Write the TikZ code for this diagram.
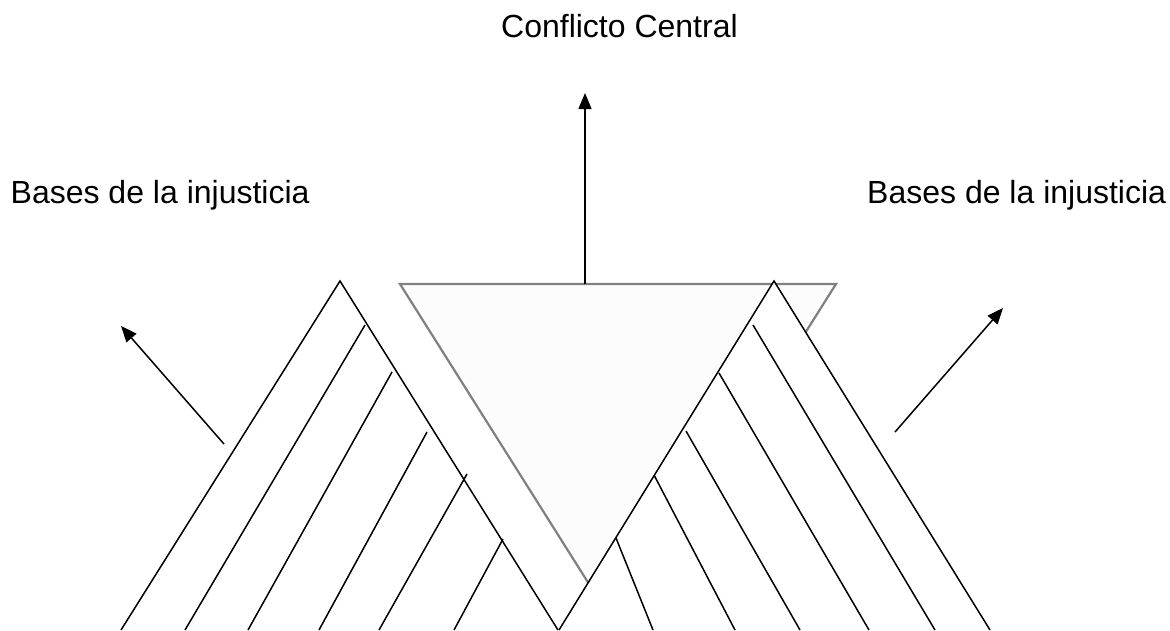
\documentclass[tikz,border=0pt]{standalone}
\usepackage{fontspec}
\setmainfont{Liberation Sans}
\usetikzlibrary{arrows.meta}
\begin{document}
\begin{tikzpicture}[x=1pt,y=-1pt,
  mline/.style={line width=1.5pt,draw=black},
  arr/.style={line width=1.5pt,draw=black,-{Triangle[length=16pt,width=13pt]}},
  lbl/.style={inner sep=0pt,anchor=base west,font=\fontsize{32}{38}\selectfont},
  tri/.style={draw=black!50,line width=2.2pt,fill=black!1,line join=miter}]
\useasboundingbox (0,0) rectangle (1170,630);
\fill[white] (0,0) rectangle (1170,630);

% labels
\node[lbl] (conf) at (501,37) {Conflicto Central};
\node[lbl] (basesL) at (10.5,203) {Bases de la injusticia};
\node[lbl] (basesR) at (867,203) {Bases de la injusticia};

% central inverted triangle
\coordinate (tA) at (400,284);
\coordinate (tB) at (836,284);
\coordinate (tC) at (618,630);
\begin{scope}
\clip (0,0) rectangle (1170,615);
\draw[tri] (tA) -- (tB) -- (tC) -- cycle;
\end{scope}

% left mountain
\coordinate (lBL) at (121,630);
\coordinate (lP) at (340,281);
\coordinate (lBR) at (558,630);
\path[mline,fill=white] (lBL) -- (lP) -- (lBR);
\coordinate (l1a) at (365,325); \coordinate (l1b) at (185,630);
\coordinate (l2a) at (392,372); \coordinate (l2b) at (248,630);
\coordinate (l3a) at (427,432); \coordinate (l3b) at (319,630);
\coordinate (l4a) at (467,474); \coordinate (l4b) at (379,630);
\coordinate (l5a) at (503,539); \coordinate (l5b) at (454,630);
\draw[mline] (l1a) -- (l1b);
\draw[mline] (l2a) -- (l2b);
\draw[mline] (l3a) -- (l3b);
\draw[mline] (l4a) -- (l4b);
\draw[mline] (l5a) -- (l5b);

% right mountain
\coordinate (rBL) at (559,630);
\coordinate (rP) at (774,281);
\coordinate (rBR) at (990,630);
\path[mline,fill=white] (rBL) -- (rP) -- (rBR);
\coordinate (r1a) at (753,325); \coordinate (r1b) at (935,630);
\coordinate (r2a) at (719,373); \coordinate (r2b) at (869,630);
\coordinate (r3a) at (686,431); \coordinate (r3b) at (800,630);
\coordinate (r4a) at (654,475); \coordinate (r4b) at (735,630);
\coordinate (r5a) at (616,538); \coordinate (r5b) at (653,630);
\draw[mline] (r1a) -- (r1b);
\draw[mline] (r2a) -- (r2b);
\draw[mline] (r3a) -- (r3b);
\draw[mline] (r4a) -- (r4b);
\draw[mline] (r5a) -- (r5b);

% arrows
\coordinate (cT) at (585,284);
\coordinate (cH) at (585,93);
\draw[arr] (cT) -- (cH);
\coordinate (aLT) at (224,444);
\coordinate (aLH) at (121,326);
\draw[arr] (aLT) -- (aLH);
\coordinate (aRT) at (895,432);
\coordinate (aRH) at (1003,308);
\draw[arr] (aRT) -- (aRH);
\end{tikzpicture}
\end{document}
